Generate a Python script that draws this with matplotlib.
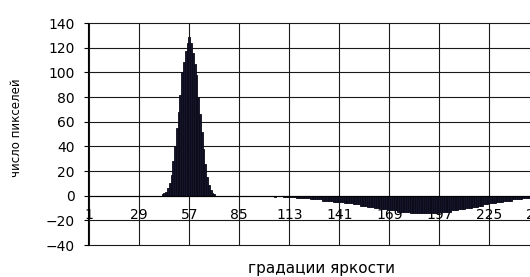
import numpy as np
import matplotlib
matplotlib.use("Agg")
import matplotlib.pyplot as plt

plt.rcParams['font.family'] = ['DejaVu Sans']

# brightness gradations 1..256 and pixel counts
levels = np.arange(1, 257)

peak_start = 42
peak_counts = [1, 2, 3, 6, 10, 17, 28, 40, 55, 68, 82, 100, 108, 117, 124,
               129,
               124, 116, 107, 98, 80, 66, 52, 38, 26, 15, 9, 5, 2, 1]

dot_level = 105
dot_count = -1

tail_start = 110
tail_counts = ([-1] * 7 + [-2] * 8 + [-3] * 7 + [-4] * 6 + [-5] * 6 + [-6] * 5
               + [-7] * 4 + [-8] * 4 + [-9] * 4 + [-10] * 4 + [-11] * 4
               + [-12] * 5 + [-13] * 7 + [-14] * 16 + [-13] * 7 + [-12] * 4
               + [-11] * 4 + [-10] * 4 + [-9] * 3 + [-8] * 3 + [-7] * 3
               + [-6] * 4 + [-5] * 4 + [-4] * 5 + [-3] * 6 + [-2] * 7 + [-1] * 6)

tick_levels = [1, 29, 57, 85, 113, 141, 169, 197, 225, 253]
y_ticks = [-40, -20, 0, 20, 40, 60, 80, 100, 120, 140]

counts = np.zeros(len(levels))
counts[peak_start - 1:peak_start - 1 + len(peak_counts)] = peak_counts
counts[dot_level - 1] = dot_count
counts[tail_start - 1:tail_start - 1 + len(tail_counts)] = tail_counts

fig = plt.figure(figsize=(5.30, 2.77), dpi=100)
ax = fig.add_axes([0.1668, 0.1155, 0.8626, 0.8014])

ax.bar(levels, counts, width=1.0, color='#14142a', edgecolor='#0a0a18',
       linewidth=0.6, zorder=3)

ax.set_xlim(0.5, 256.5)
ax.set_ylim(-40, 140)
ax.set_yticks(y_ticks)
ax.set_xticks(tick_levels)
ax.set_xticklabels([str(t) for t in tick_levels])

ax.grid(True, color='#1a1a1a', linewidth=0.8, zorder=1)
for gl in ax.get_ygridlines():
    gl.set_clip_on(False)
ax.spines['bottom'].set_position(('data', 0))
ax.spines['bottom'].set_zorder(4)
ax.spines['top'].set_visible(False)
ax.spines['right'].set_visible(False)
ax.spines['left'].set_linewidth(0.8)
ax.spines['bottom'].set_linewidth(0.8)

ax.tick_params(axis='y', length=3, width=0.8, labelsize=10, pad=7)
ax.tick_params(axis='x', length=0, labelsize=10, pad=9)

fig.text(0.032, 0.538, 'число пикселей', rotation=90, ha='center',
         va='center', fontsize=8.5)
fig.text(0.606, 0.03, 'градации яркости', ha='center', va='center',
         fontsize=11)

fig.savefig('out.png', dpi=100)
